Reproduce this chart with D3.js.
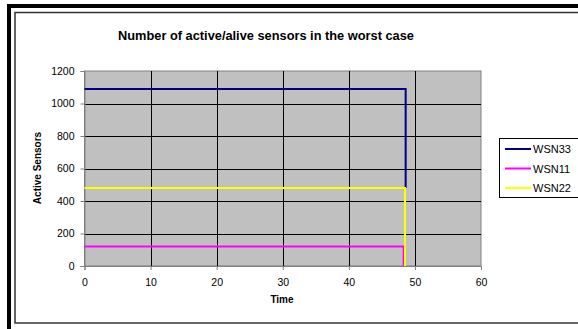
<!DOCTYPE html>
<html><head><meta charset="utf-8">
<script src="https://cdn.jsdelivr.net/npm/d3@7"></script>
<style>
html,body{margin:0;padding:0;background:#fff;}
text{font-family:"Liberation Sans",Arial,sans-serif;}
</style></head>
<body>
<svg id="c" width="578" height="329"></svg>
<script>
const seriesNames = ["WSN33","WSN11","WSN22"];
const seriesColors = ["#000080","#ff00ff","#ffff00"];
const wsn33 = [[0,1090],[48.6,1090],[48.6,480]];
const wsn11 = [[0,120],[48.3,120],[48.3,0]];
const wsn22 = [[0,480],[48.5,480],[48.5,0]];
const xTicks = [0,10,20,30,40,50,60];
const yTicks = [0,200,400,600,800,1000,1200];
const title = "Number of active/alive sensors in the worst case";
const xLabel = "Time";
const yLabel = "Active Sensors";

const svg = d3.select("#c");
// frame
svg.append("rect").attr("x",7).attr("y",4).attr("width",600).attr("height",400).attr("fill","#000");
svg.append("rect").attr("x",11).attr("y",8).attr("width",600).attr("height",400).attr("fill","#fff");
svg.append("rect").attr("x",15).attr("y",12.5).attr("width",600).attr("height",310.5)
  .attr("fill","#fff").attr("stroke","#333").attr("stroke-width",1.5);

const L=84.5, R=481, T=71, B=266;
const x = d3.scaleLinear().domain([0,60]).range([L,R]);
const y = d3.scaleLinear().domain([0,1200]).range([B,T]);

svg.append("rect").attr("x",L).attr("y",T).attr("width",R-L).attr("height",B-T)
  .attr("fill","#c0c0c0").attr("stroke","#808080").attr("stroke-width",1);

const g = svg.append("g");
g.selectAll("line.h").data(yTicks.filter(d=>d>0 && d<1200)).enter().append("line")
  .attr("x1",L).attr("x2",R).attr("y1",d=>Math.round(y(d))+0.5).attr("y2",d=>Math.round(y(d))+0.5)
  .attr("stroke","#000").attr("stroke-width",1);
g.selectAll("line.v").data(xTicks.filter(d=>d>0 && d<60)).enter().append("line")
  .attr("y1",T).attr("y2",B).attr("x1",d=>Math.round(x(d))+0.5).attr("x2",d=>Math.round(x(d))+0.5)
  .attr("stroke","#000").attr("stroke-width",1);

// axes
const xa = svg.append("g").attr("transform",`translate(0,${B})`)
  .call(d3.axisBottom(x).tickValues(xTicks).tickFormat(d3.format("d")).tickSize(4).tickPadding(9));
const ya = svg.append("g").attr("transform",`translate(${L},0)`)
  .call(d3.axisLeft(y).tickValues(yTicks).tickFormat(d3.format("d")).tickSize(4).tickPadding(6));
[xa,ya].forEach(a=>{
  a.select(".domain").attr("stroke","#808080");
  a.selectAll(".tick line").attr("stroke","#808080");
  a.selectAll("text").attr("font-size","10.5px").attr("fill","#000")
    .attr("font-family","Liberation Sans, Arial, sans-serif");
});

const line = d3.line().x(d=>x(d[0])).y(d=>y(d[1]));
const data = [wsn33, wsn11, wsn22];
data.forEach((s,i)=>{
  svg.append("path").datum(s).attr("d",line).attr("fill","none")
    .attr("stroke",seriesColors[i]).attr("stroke-width",2);
});

svg.append("text").attr("x",266).attr("y",40).attr("text-anchor","middle")
  .attr("font-weight","bold").attr("font-size","12.8px").text(title);
svg.append("text").attr("x",282).attr("y",303).attr("text-anchor","middle")
  .attr("font-weight","bold").attr("font-size","10px").text(xLabel);
svg.append("text").attr("transform","translate(41,168) rotate(-90)").attr("text-anchor","middle")
  .attr("font-weight","bold").attr("font-size","10px").text(yLabel);

// legend
svg.append("rect").attr("x",499.5).attr("y",138.5).attr("width",100).attr("height",59)
  .attr("fill","#fff").attr("stroke","#000").attr("stroke-width",1);
seriesNames.forEach((n,i)=>{
  const yy = 149 + i*19.5;
  svg.append("line").attr("x1",505).attr("x2",531).attr("y1",yy).attr("y2",yy)
    .attr("stroke",seriesColors[i]).attr("stroke-width",2);
  svg.append("text").attr("x",533).attr("y",yy+4).attr("font-size","11px").text(n);
});
</script>
</body></html>
